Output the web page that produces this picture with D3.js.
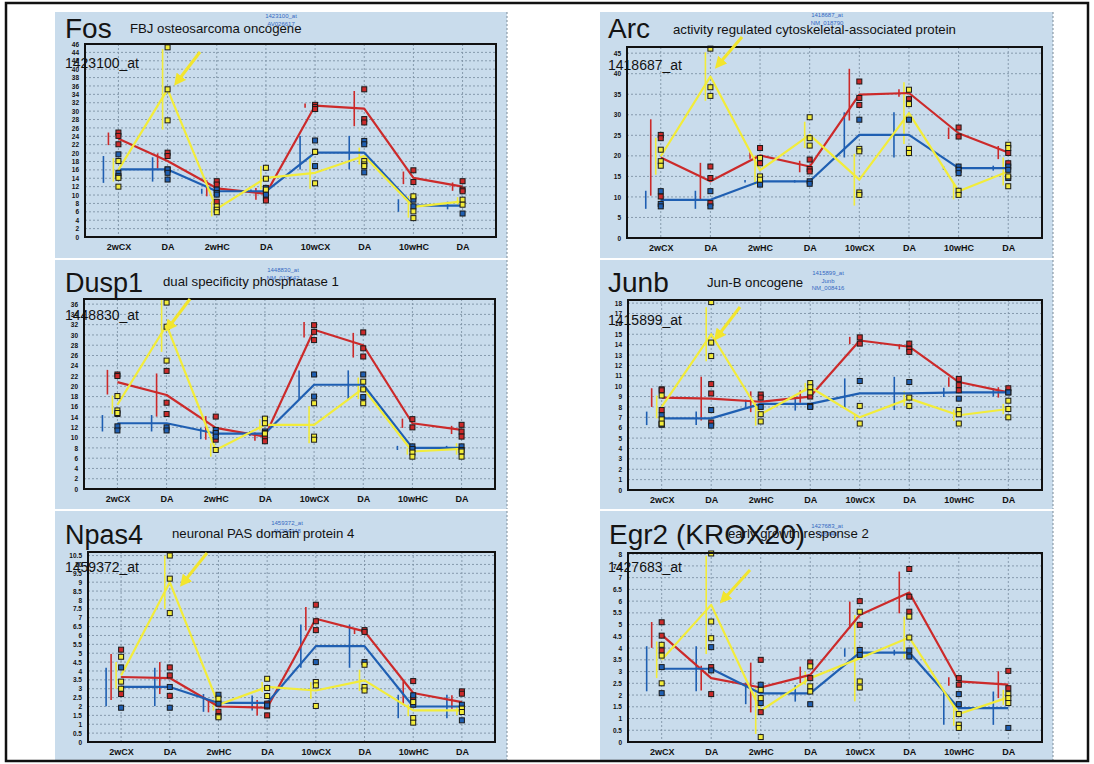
<!DOCTYPE html>
<html>
<head>
<meta charset="utf-8">
<script src="https://cdn.jsdelivr.net/npm/d3@7"></script>
<style>
body { margin: 0; background: #fff; }
svg { display: block; font-family: Arial, "Liberation Sans", sans-serif; }
</style>
</head>
<body>
<svg width="1094" height="764"></svg>
<script>
var categories = ["2wCX", "DA", "2wHC", "DA ", "10wCX", "DA  ", "10wHC", "DA   "];
var seriesColors = ["#cc2a2a", "#1f5fb2", "#f2ec3a"];

var genes = ["Fos", "Arc", "Dusp1", "Junb", "Npas4", "Egr2 (KROX20)"];
var descriptions = ["FBJ osteosarcoma oncogene", "activity regulated cytoskeletal-associated protein",
    "dual specificity phosphatase 1", "Jun-B oncogene", "neuronal PAS domain protein 4", "early growth response 2"];
var probes = ["1423100_at", "1418687_at", "1448830_at", "1415899_at", "1459372_at", "1427683_at"];
var probeNotes = [["1423100_at", "AV026617"], ["1418687_at", "NM_018790"], ["1448830_at", "NM_013642"],
    ["1415899_at", "Junb", "NM_008416"], ["1459372_at", "AV294248"], ["1427683_at", "X06746"]];
var yMax = [46, 46.5, 37, 18.3, 10.7, 8.05];
var yStep = [2, 5, 2, 1, 0.5, 0.5];

// means, error half-lengths and single points: [red, blue, yellow]
var fosMeans = [
    [23.4, 18.1, 11.6, 10.3, 31.3, 30.6, 14.1, 12.0],
    [16.1, 16.1, 10.9, 10.9, 20.1, 20.1, 7.5, 7.5],
    [16.0, 35.2, 6.7, 14.1, 15.3, 19.3, 7.2, 8.5]];
var fosErr = [
    [1.5, 1.8, 1.9, 1.4, 0.5, 4.2, 1.5, 1.0],
    [3.2, 2.9, 0.6, 0.4, 4.0, 4.0, 1.5, 0.9],
    [2.8, 9.6, 1.8, 2.8, 3.8, 2.0, 2.6, 1.0]];
var fosPts = [
    [[24.9, 24.1, 22.1], [20.1, 19.3, 16.1], [13.3, 12.5, 8.4], [11.3, 9.3, 8.7], [31.5, 31.0, 30.5], [35.2, 28.1, 27.3], [15.9, 13.1], [13.3, 11.3, 10.9]],
    [[19.7, 15.3, 14.5], [16.1, 15.3, 13.7], [11.3, 10.5, 10.1], [11.7, 10.9, 10.1], [23.0, 20.3, 16.9], [22.9, 22.1, 15.4], [8.9, 7.3], [5.6]],
    [[18.1, 14.1, 12.0], [45.2, 35.2, 27.8], [7.3, 6.5, 5.9], [16.5, 13.9, 11.3], [20.3, 12.8], [18.1, 17.3, 16.9], [9.7, 6.1, 4.5], [8.9, 7.7]]];

var arcMeans = [
    [19.6, 13.8, 20.1, 17.4, 34.9, 35.3, 25.5, 20.8],
    [9.3, 9.3, 13.8, 13.8, 25.1, 25.1, 17.0, 17.0],
    [19.9, 39.3, 16.5, 25.1, 14.2, 30.4, 11.4, 16.2]];
var arcErr = [
    [9.3, 4.5, 0.8, 1.4, 6.3, 0.9, 1.4, 1.6],
    [2.2, 2.2, 0.3, 0.3, 5.5, 5.5, 0.4, 0.6],
    [4.5, 5.9, 3.6, 3.2, 6.3, 7.5, 2.0, 3.4]];
var arcPts = [
    [[25.1, 24.3, 10.1], [17.4, 14.6, 8.5], [21.9, 18.7, 18.2], [19.1, 16.8, 16.2], [38.1, 34.1, 32.4], [33.8, 32.8], [26.9, 24.7], [20.7, 18.2]],
    [[11.4, 8.3, 7.7], [11.4, 7.7], [13.4, 13.0], [13.8, 13.2], [28.8], [28.8, 21.1], [17.4, 16.6, 15.8], [17.4, 16.6, 14.6]],
    [[21.5, 18.7, 17.6], [46.1, 36.7, 34.6], [19.5, 15.0, 14.2], [29.4, 24.3, 22.5], [21.7, 21.1, 11.1, 10.5], [36.1, 32.6, 21.7, 20.7], [11.5, 10.5], [22.7, 21.9, 15.0, 12.6]]];

var dusp1Means = [
    [20.8, 18.3, 11.9, 10.2, 31.0, 28.0, 12.8, 11.5],
    [12.8, 12.8, 10.8, 10.8, 20.3, 20.3, 8.0, 8.0],
    [16.4, 31.9, 7.6, 12.5, 12.5, 19.6, 7.3, 7.8]];
var dusp1Err = [
    [2.4, 4.2, 2.3, 0.8, 1.5, 2.4, 0.9, 0.8],
    [1.6, 1.6, 1.1, 0.5, 2.8, 2.8, 0.4, 0.4],
    [1.8, 5.2, 1.3, 1.1, 3.6, 2.1, 0.6, 1.1]];
var dusp1Pts = [
    [[22.3, 22.0], [23.0, 16.8, 14.6], [14.1, 9.6], [9.9, 9.3], [31.9, 30.6, 29.0], [30.5, 27.4, 25.8], [13.6, 12.0], [12.5, 11.2, 10.2]],
    [[14.6, 12.2, 11.4], [12.0, 11.4], [11.5, 10.9, 10.2], [11.2, 10.9], [22.3, 18.0], [22.3, 17.9], [8.3, 7.8], [8.3, 7.6]],
    [[18.1, 15.3, 14.8], [36.3, 31.6, 25.0], [7.6], [13.7, 12.8, 10.8], [16.7, 10.2, 9.6], [20.9, 19.4, 16.7], [7.1, 6.3], [7.3, 6.3]]];

var junbMeans = [
    [8.9, 8.8, 8.5, 9.0, 14.4, 13.8, 10.4, 9.4],
    [6.9, 6.9, 8.3, 8.3, 9.3, 9.3, 9.4, 9.4],
    [8.0, 15.0, 7.3, 9.9, 7.0, 8.8, 7.2, 7.8]];
var junbErr = [
    [0.9, 2.1, 1.0, 0.6, 0.35, 0.25, 0.45, 0.5],
    [0.65, 0.65, 0.4, 0.65, 1.45, 1.6, 0.45, 0.4],
    [1.1, 2.6, 1.1, 0.4, 0.3, 0.7, 0.55, 0.5]];
var junbPts = [
    [[9.7, 9.6, 7.7, 6.3], [10.2, 9.3, 6.5], [9.2, 8.9], [9.0, 8.1], [14.7, 14.1], [14.1, 13.6, 13.3], [10.7, 10.1, 9.6], [9.8, 9.4]],
    [[7.2, 6.3], [7.7, 6.2], [8.0], [8.0], [10.5], [10.4], [8.8], [9.4]],
    [[9.1, 6.8, 6.4], [18.1, 14.2, 12.9], [7.3, 6.6], [10.3, 9.9, 9.4], [8.1, 6.4], [8.9, 8.1], [7.7, 7.3, 6.4], [8.6, 7.8, 7.0]]];

var npas4Means = [
    [3.66, 3.6, 2.0, 1.93, 6.94, 6.23, 2.76, 2.25],
    [3.1, 3.1, 2.2, 2.2, 5.4, 5.4, 2.0, 2.0],
    [3.75, 9.0, 2.1, 3.1, 2.9, 3.47, 1.78, 1.78]];
var npas4Err = [
    [1.3, 0.9, 0.33, 0.44, 0.66, 0.15, 0.66, 0.38],
    [1.08, 1.08, 0.5, 0.42, 1.22, 1.22, 0.66, 0.66],
    [0.75, 1.5, 0.33, 0.28, 0.47, 0.6, 0.33, 0.28]];
var npas4Pts = [
    [[5.2, 2.7], [4.2, 3.75, 2.6], [1.7, 1.46], [2.16, 2.0, 1.5], [7.73, 6.8, 6.3], [6.3, 6.2], [3.43, 2.44], [2.85, 2.72]],
    [[4.2, 1.93], [3.1, 1.93], [2.66, 2.16], [2.06], [4.5], [4.5], [2.63, 2.1], [2.1, 1.22]],
    [[4.8, 3.4, 3.0], [10.5, 9.2, 7.26], [2.44, 1.39], [3.56, 3.04, 2.59], [3.38, 3.19, 2.03], [4.35, 3.1, 2.9], [2.25, 1.35, 1.09], [1.88, 1.69]]];

var egr2Means = [
    [4.56, 2.72, 2.32, 2.86, 5.41, 6.37, 2.58, 2.44],
    [3.12, 3.12, 2.07, 2.07, 3.81, 3.81, 1.44, 1.44],
    [3.5, 5.84, 1.33, 2.72, 3.57, 4.45, 1.19, 1.9]];
var egr2Err = [
    [0.55, 0.53, 1.06, 0.35, 0.57, 0.89, 0.18, 0.57],
    [0.96, 0.96, 0.46, 0.35, 0.18, 0.12, 0.71, 0.71],
    [0.78, 2.09, 0.99, 0.28, 1.84, 0.89, 0.5, 0.32]];
var egr2Pts = [
    [[5.1, 4.53, 3.9], [3.19, 2.04], [3.5, 1.27], [3.39, 2.72], [6.0, 4.99], [7.37, 6.19, 5.55], [2.72, 2.44], [3.03, 2.29]],
    [[3.19, 2.08], [4.04, 3.05], [2.44, 1.66], [1.61], [3.92, 3.71], [3.9, 3.64], [2.04, 1.61], [0.6]],
    [[4.14, 3.68, 2.5], [8.03, 5.13, 4.42], [2.22, 1.87, 0.21], [3.22, 2.37, 2.15], [5.55, 2.58, 2.32], [5.34, 4.45], [1.19, 0.74, 0.6], [2.04, 1.87, 1.66]]];

var allMeans = [fosMeans, arcMeans, dusp1Means, junbMeans, npas4Means, egr2Means];
var allErr = [fosErr, arcErr, dusp1Err, junbErr, npas4Err, egr2Err];
var allPts = [fosPts, arcPts, dusp1Pts, junbPts, npas4Pts, egr2Pts];

// layout (pixels)
var boxes = [[85, 44, 496, 237], [627, 47, 1042, 238], [84, 299, 495, 489],
    [628, 300, 1042, 490], [88, 552, 495, 742], [628, 553, 1042, 742]];
var panelBg = [[55, 12, 452, 246], [600, 12, 453, 246], [55, 260, 452, 249],
    [600, 260, 453, 249], [55, 511, 452, 249], [600, 511, 453, 249]];
var titlePos = [[65, 38], [608, 38], [65, 292], [608, 292], [65, 544], [609, 544]];
var subPos = [[130, 33], [673, 34], [163, 286], [707, 287], [172, 538], [728, 538]];
var probePos = [[65, 68], [608, 70], [65, 320], [608, 325], [65, 572], [608, 572]];
var notePos = [[281, 18], [827, 17], [283, 272], [828, 275], [287, 525], [827, 528]];
var arrows = [[200, 52, 177, 82], [742, 37, 718, 65], [190, 299, 168, 328],
    [740, 307, 717, 337], [207, 553, 183, 583], [750, 570, 723, 600]];
var errOffset = [-10, -15, -5];

var svg = d3.select("svg");

svg.append("defs").append("marker")
    .attr("id", "arrowhead")
    .attr("viewBox", "0 0 10 10")
    .attr("refX", 6).attr("refY", 5)
    .attr("markerWidth", 4).attr("markerHeight", 4)
    .attr("orient", "auto")
    .append("path")
    .attr("d", "M0,0 L10,5 L0,10 Z")
    .attr("fill", "#f2e52e");

// panel backgrounds
panelBg.forEach(function(p) {
    svg.append("rect")
        .attr("x", p[0]).attr("y", p[1])
        .attr("width", p[2]).attr("height", p[3])
        .attr("fill", "#c9dcec");
    svg.append("line")
        .attr("x1", p[0] + p[2]).attr("x2", p[0] + p[2])
        .attr("y1", p[1]).attr("y2", p[1] + p[3])
        .attr("stroke", "#7d8c98").attr("stroke-dasharray", "2,2");
});

genes.forEach(function(gene, gi) {
    var b = boxes[gi];
    var g = svg.append("g");

    var x = d3.scalePoint()
        .domain(categories)
        .range([b[0], b[2]])
        .padding(0.68);
    var y = d3.scaleLinear()
        .domain([0, yMax[gi]])
        .range([b[3], b[1]]);

    var ticks = d3.range(0, yMax[gi] + 1e-9, yStep[gi]);

    // grid
    g.selectAll(".hgrid").data(ticks.slice(1))
        .enter().append("line")
        .attr("x1", b[0]).attr("x2", b[2])
        .attr("y1", function(d) { return y(d); })
        .attr("y2", function(d) { return y(d); })
        .attr("stroke", "#7f93a6").attr("stroke-width", 0.9)
        .attr("stroke-dasharray", "2,2");
    g.selectAll(".vgrid").data(categories)
        .enter().append("line")
        .attr("x1", function(d) { return x(d); })
        .attr("x2", function(d) { return x(d); })
        .attr("y1", b[1]).attr("y2", b[3])
        .attr("stroke", "#7f93a6").attr("stroke-width", 0.9)
        .attr("stroke-dasharray", "2,2");

    var means = allMeans[gi], errs = allErr[gi], pts = allPts[gi];

    // error bars
    [0, 1, 2].forEach(function(s) {
        g.selectAll(".err" + s).data(means[s])
            .enter().append("line")
            .attr("x1", function(d, i) { return x(categories[i]) + errOffset[s]; })
            .attr("x2", function(d, i) { return x(categories[i]) + errOffset[s]; })
            .attr("y1", function(d, i) { return y(d - errs[s][i]); })
            .attr("y2", function(d, i) { return y(Math.min(d + errs[s][i], yMax[gi])); })
            .attr("stroke", seriesColors[s]).attr("stroke-width", 1.6);
    });

    // mean lines
    var line = d3.line()
        .x(function(d, i) { return x(categories[i]); })
        .y(function(d) { return y(d); });
    [0, 1, 2].forEach(function(s) {
        g.append("path")
            .datum(means[s])
            .attr("d", line)
            .attr("fill", "none")
            .attr("stroke", seriesColors[s])
            .attr("stroke-width", 2.2)
            .attr("stroke-linejoin", "round");
    });

    // individual points
    [0, 1, 2].forEach(function(s) {
        var flat = [];
        pts[s].forEach(function(arr, i) {
            arr.forEach(function(v) { flat.push({ c: categories[i], v: v }); });
        });
        g.selectAll(".pt" + s).data(flat)
            .enter().append("rect")
            .attr("x", function(d) { return x(d.c) - 2.5; })
            .attr("y", function(d) { return y(d.v) - 2.5; })
            .attr("width", 5).attr("height", 5)
            .attr("fill", seriesColors[s])
            .attr("stroke", "#1a1a1a").attr("stroke-width", 1);
    });

    // frame of the plot
    g.append("rect")
        .attr("x", b[0]).attr("y", b[1])
        .attr("width", b[2] - b[0]).attr("height", b[3] - b[1])
        .attr("fill", "none").attr("stroke", "#111").attr("stroke-width", 2);

    // axes
    var yAxis = g.append("g")
        .attr("transform", "translate(" + (b[0] - 3) + ",0)")
        .call(d3.axisLeft(y).tickValues(ticks).tickSize(0).tickFormat(d3.format("~g")));
    yAxis.select(".domain").remove();
    yAxis.selectAll("text")
        .attr("font-size", 6.5).attr("font-weight", "bold")
        .attr("font-family", "Arial, 'Liberation Sans', sans-serif")
        .attr("fill", "#111");

    var xAxis = g.append("g")
        .attr("transform", "translate(0," + (b[3] + 4) + ")")
        .call(d3.axisBottom(x).tickSize(0));
    xAxis.select(".domain").remove();
    xAxis.selectAll("text")
        .text(function(d) { return d.trim(); })
        .attr("font-size", 9).attr("font-weight", "bold")
        .attr("font-family", "Arial, 'Liberation Sans', sans-serif")
        .attr("fill", "#111");

    // texts
    var note = g.append("text")
        .attr("x", notePos[gi][0]).attr("y", notePos[gi][1])
        .attr("text-anchor", "middle")
        .attr("font-size", 6).attr("fill", "#3569c2");
    probeNotes[gi].forEach(function(t, k) {
        note.append("tspan")
            .attr("x", notePos[gi][0]).attr("dy", k === 0 ? 0 : 7.5)
            .text(t);
    });

    g.append("text")
        .attr("x", subPos[gi][0]).attr("y", subPos[gi][1])
        .attr("font-size", 13.2).attr("fill", "#111")
        .text(descriptions[gi]);

    g.append("text")
        .attr("x", titlePos[gi][0]).attr("y", titlePos[gi][1])
        .attr("font-size", gi === 2 || gi === 4 ? 27 : 28).attr("fill", "#141414")
        .text(gene);

    g.append("text")
        .attr("x", probePos[gi][0]).attr("y", probePos[gi][1])
        .attr("font-size", 14).attr("fill", "#111")
        .text(probes[gi]);

    var a = arrows[gi];
    g.append("line")
        .attr("x1", a[0]).attr("y1", a[1])
        .attr("x2", a[2]).attr("y2", a[3])
        .attr("stroke", "#f2e52e").attr("stroke-width", 3)
        .attr("marker-end", "url(#arrowhead)");
});

// outer frame
svg.append("rect")
    .attr("x", 6).attr("y", 3)
    .attr("width", 1082).attr("height", 758)
    .attr("fill", "none").attr("stroke", "#111").attr("stroke-width", 2.5);
</script>
</body>
</html>
